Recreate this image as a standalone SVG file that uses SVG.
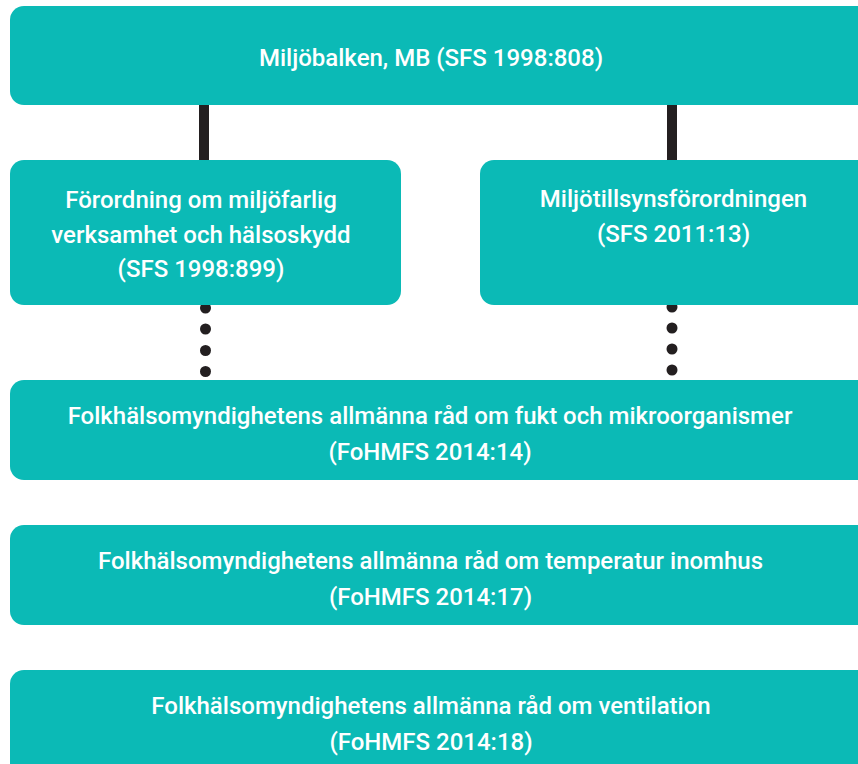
<svg xmlns="http://www.w3.org/2000/svg" width="858" height="764" viewBox="0 0 858 764">
<style>
.box{fill:#0bbab6}
.t{font-family:Roboto,"Open Sans","Liberation Sans",sans-serif;font-size:24px;font-weight:500;fill:#ffffff;text-anchor:middle}
.line{stroke:#231f20;stroke-width:10}
.dot{fill:#231f20}
</style>
<rect width="858" height="764" fill="#ffffff"/>
<g id="connectors">
<line class="line" x1="204" y1="100" x2="204" y2="165"/>
<line class="line" x1="672" y1="100" x2="672" y2="165"/>
<circle class="dot" cx="205.5" cy="308" r="5.5"/>
<circle class="dot" cx="205.5" cy="329" r="5.5"/>
<circle class="dot" cx="205.5" cy="350.5" r="5.5"/>
<circle class="dot" cx="205.5" cy="371.5" r="5.5"/>
<circle class="dot" cx="672" cy="307" r="5.5"/>
<circle class="dot" cx="672" cy="328" r="5.5"/>
<circle class="dot" cx="672" cy="349" r="5.5"/>
<circle class="dot" cx="672" cy="370" r="5.5"/>
</g>
<g id="miljobalken">
<rect class="box" x="10" y="6" width="880" height="99" rx="14"/>
<text class="t" x="431" y="66">Miljöbalken, MB (SFS 1998:808)</text>
</g>
<g id="forordning">
<rect class="box" x="10" y="160" width="391" height="145" rx="14"/>
<text class="t" x="201" y="208">Förordning om miljöfarlig</text>
<text class="t" x="201" y="243">verksamhet och hälsoskydd</text>
<text class="t" x="201" y="277">(SFS 1998:899)</text>
</g>
<g id="miljotillsyn">
<rect class="box" x="480" y="160" width="420" height="145" rx="14"/>
<text class="t" x="673.5" y="207">Miljötillsynsförordningen</text>
<text class="t" x="673.5" y="242">(SFS 2011:13)</text>
</g>
<g id="fukt">
<rect class="box" x="10" y="380" width="880" height="100" rx="14"/>
<text class="t" x="430" y="424">Folkhälsomyndighetens allmänna råd om fukt och mikroorganismer</text>
<text class="t" x="430" y="460">(FoHMFS 2014:14)</text>
</g>
<g id="temperatur">
<rect class="box" x="10" y="525" width="880" height="100" rx="14"/>
<text class="t" x="430.5" y="569">Folkhälsomyndighetens allmänna råd om temperatur inomhus</text>
<text class="t" x="430.5" y="605">(FoHMFS 2014:17)</text>
</g>
<g id="ventilation">
<rect class="box" x="10" y="670" width="880" height="110" rx="14"/>
<text class="t" x="431" y="714">Folkhälsomyndighetens allmänna råd om ventilation</text>
<text class="t" x="431" y="750">(FoHMFS 2014:18)</text>
</g>
</svg>
